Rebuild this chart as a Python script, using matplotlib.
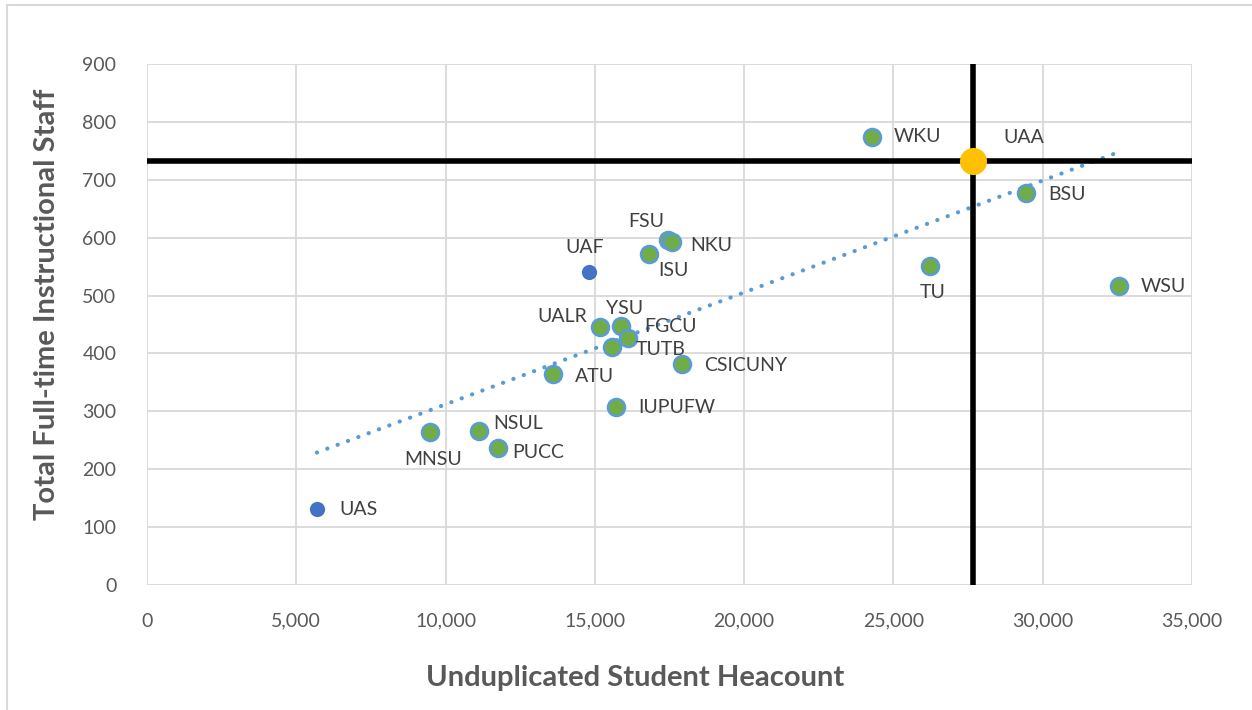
import matplotlib.pyplot as plt
import numpy as np
from matplotlib.ticker import FuncFormatter
from matplotlib.patches import Rectangle

# ------ data ------
names = ["WKU", "BSU", "TU", "WSU", "FSU", "NKU", "ISU", "UALR", "YSU", "FGCU",
         "TUTB", "ATU", "CSICUNY", "IUPUFW", "MNSU", "NSUL", "PUCC"]
headcount = [24280, 29440, 26220, 32550, 17450, 17580, 16810, 15170, 15870, 16110,
             15570, 13600, 17920, 15710, 9480, 11120, 11760]
staff = [774, 677, 551, 516, 596, 593, 572, 446, 447, 427,
         411, 364, 382, 307, 264, 266, 237]

alaska_names = ["UAF", "UAS"]
alaska_headcount = [14800, 5690]
alaska_staff = [541, 131]

uaa_name = "UAA"
uaa_headcount = 27670
uaa_staff = 732

# label offsets in pixels (dx, dy, ha, va)
offsets = {
    "WKU": (22, 0, "left", "center"), "UAA": (30, 24, "left", "center"),
    "BSU": (22, -1, "left", "center"), "TU": (3, -26, "center", "center"),
    "WSU": (22, 0, "left", "center"), "FSU": (-22, 18, "center", "center"),
    "NKU": (18, -4, "left", "center"), "ISU": (9, -17, "left", "center"),
    "UAF": (-4, 24, "center", "center"), "UALR": (-13, 10, "right", "center"),
    "YSU": (4, 18, "center", "center"), "FGCU": (16, 11, "left", "center"),
    "TUTB": (24, -2, "left", "center"), "ATU": (22, -2, "left", "center"),
    "CSICUNY": (22, -2, "left", "center"), "IUPUFW": (22, 0, "left", "center"),
    "MNSU": (3, -27, "center", "center"), "NSUL": (14, 8, "left", "center"),
    "PUCC": (14, -5, "left", "center"), "UAS": (22, 0, "left", "center"),
}

# ------ plot ------
plt.rcParams['font.family'] = ['Lato', 'DejaVu Sans']
fig = plt.figure(figsize=(12.52, 7.10), dpi=100)
ax = fig.add_axes([147/1252, 1-585/710, 1045/1252, 521/710])

fig.patches.append(Rectangle((7/1252, -0.05), 1.1, 1 - 5/710 + 0.05, transform=fig.transFigure,
                             fill=False, edgecolor="#D9D9D9", linewidth=1.5))

ax.set_xlim(0, 35000)
ax.set_ylim(0, 900)
ax.set_xticks(np.arange(0, 35001, 5000))
ax.set_yticks(np.arange(0, 901, 100))
ax.xaxis.set_major_formatter(FuncFormatter(lambda v, p: f"{int(v):,}"))
ax.grid(True, color="#D9D9D9", linewidth=1.3)
ax.set_axisbelow(True)
for s in ax.spines.values():
    s.set_visible(False)
ax.tick_params(length=0, labelsize=14, labelcolor="#595959")
ax.tick_params(axis="y", pad=22)
ax.tick_params(axis="x", pad=20)

# trend line over all points
all_x = np.array(headcount + alaska_headcount + [uaa_headcount])
all_y = np.array(staff + alaska_staff + [uaa_staff])
k, b = np.polyfit(all_x, all_y, 1)
tx = np.array([all_x.min(), all_x.max()])
ax.plot(tx, k * tx + b, linestyle=(0, (0.05, 2.6)), color="#5B9BD5", linewidth=3,
        dash_capstyle="round", zorder=2)

ax.axhline(uaa_staff, color="black", linewidth=4, zorder=3)
ax.axvline(uaa_headcount, color="black", linewidth=4, zorder=3)

ax.scatter(headcount, staff, s=150, color="#70AD47", edgecolor="#5B9BD5", linewidth=1.8, zorder=4)
ax.scatter(alaska_headcount, alaska_staff, s=120, color="#4472C4", linewidth=0, zorder=4)
ax.scatter([uaa_headcount], [uaa_staff], s=380, color="#FFC000", linewidth=0, zorder=5)

for n, x, y in zip(names + alaska_names + [uaa_name],
                   headcount + alaska_headcount + [uaa_headcount],
                   staff + alaska_staff + [uaa_staff]):
    dx, dy, ha, va = offsets[n]
    ax.annotate(n, (x, y), xytext=(dx, dy), textcoords="offset pixels",
                ha=ha, va=va, fontsize=14, color="#404040", zorder=6)

ax.set_xlabel("Unduplicated Student Heacount", fontsize=21, fontweight="bold", color="#595959",
              va="center")
ax.set_ylabel("Total Full-time Instructional Staff", fontsize=21, fontweight="bold", color="#595959",
              va="center")
ax.xaxis.set_label_coords(0.467, -0.1785)
ax.yaxis.set_label_coords(-0.0957, 0.539)

fig.savefig("out.png", dpi=100)
